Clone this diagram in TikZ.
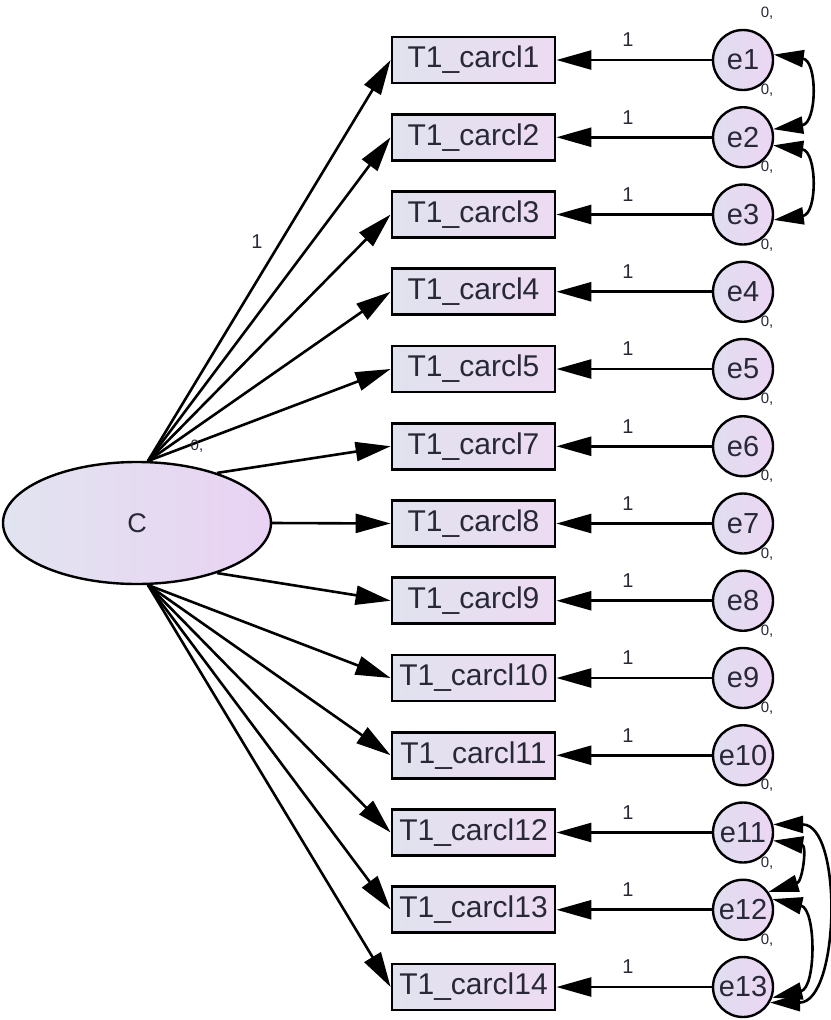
\documentclass[tikz,border=0pt]{standalone}
\usepackage{fontspec}
\setmainfont{Liberation Sans}
\usetikzlibrary{arrows.meta,shapes.geometric}
\definecolor{boxL}{RGB}{224,226,238}
\definecolor{boxR}{RGB}{237,219,243}
\definecolor{elL}{RGB}{226,228,240}
\definecolor{elR}{RGB}{233,210,243}
\definecolor{cL}{RGB}{224,222,240}
\definecolor{cR}{RGB}{236,214,243}
\definecolor{txt}{RGB}{40,40,55}
\begin{document}
\begin{tikzpicture}[x=1pt,y=-1pt,
  obs/.style={draw, line width=2.8pt, minimum width=163pt, minimum height=46pt, inner sep=0pt,
    left color=boxL, right color=boxR, text=txt, font=\fontsize{30}{32}\selectfont},
  err/.style={circle, draw, line width=2.4pt, minimum size=60pt, inner sep=0pt,
    left color=cL, right color=cR, text=txt, font=\fontsize{29}{31}\selectfont},
  lat/.style={ellipse, draw, line width=2.4pt, minimum width=268pt, minimum height=122pt, inner sep=0pt,
    left color=elL, right color=elR, text=txt, font=\fontsize{27}{29}\selectfont},
  pth/.style={line width=2.6pt, -{Triangle[length=35pt,width=19pt]}},
  cov/.style={line width=2.6pt, {Triangle[length=30pt,width=17pt]}-{Triangle[length=30pt,width=17pt]}},
  lbl/.style={font=\fontsize{20}{21}\selectfont, text=txt, inner sep=0pt},
  vlbl/.style={font=\fontsize{15}{16}\selectfont, text=txt, inner sep=0pt}
]
\useasboundingbox (0,0) rectangle (830,1020);
\node[lat] (C) at (137,523) {C};
\foreach \i/\n in {1/1,2/2,3/3,4/4,5/5,6/7,7/8,8/9,9/10,10/11,11/12,12/13,13/14} {
  \pgfmathsetmacro\yy{60+(\i-1)*77.25}
  \node[obs] (b\i) at (473.5,\yy) {T1\_carcl\n};
  \node[err] (e\i) at (743,\yy) {e\i};
  \draw[pth] (e\i) -- (b\i);
  \node[lbl] (one\i) at (628,\yy-20) {1};
  \node[vlbl] (v\i) at (767,\yy-47) {0,};
}
\foreach \i in {1,...,5} { \draw[pth] (C.80) -- (b\i.west); }
\draw[pth] (C.32) -- (b6.west);
\draw[pth] (C.east) -- (b7.west);
\draw[pth] (C.-32) -- (b8.west);
\foreach \i in {9,...,13} { \draw[pth] (C.-80) -- (b\i.west); }
\node[lbl] (c1) at (257,242) {1};
\node[vlbl] (cv) at (197,446) {0,};
% covariances
\draw[cov] (e1.10) .. controls +(44,6) and +(44,-6) .. (e2.15);
\draw[cov] (e2.-15) .. controls +(44,6) and +(44,-6) .. (e3.-10);
\draw[cov] (e11.-15) .. controls +(34,5) and +(34,-10) .. (e12.35);
\draw[cov] (e12.20) .. controls +(44,10) and +(44,-10) .. (e13.-20);
\draw[cov] (e11.15) .. controls +(70,0) and +(70,0) .. (e13.-30);
\end{tikzpicture}
\end{document}
